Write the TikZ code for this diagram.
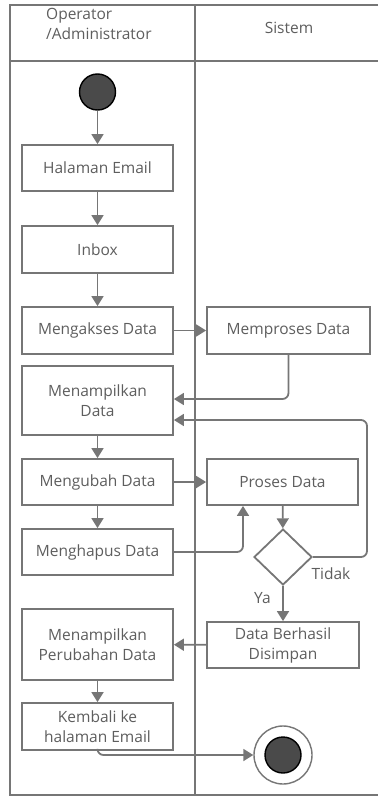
\documentclass[tikz,border=0pt]{standalone}
\usepackage{fontspec}
\setmainfont{Open Sans}
\usetikzlibrary{arrows.meta,shapes.geometric}
\definecolor{ln}{HTML}{767676}
\definecolor{tx}{HTML}{5E5E5E}
\definecolor{dot}{HTML}{4A4A4A}
\begin{document}
\begin{tikzpicture}[x=1pt,y=-1pt,
  font=\fontsize{15.5}{20}\selectfont,
  frame/.style={draw=ln, line width=2pt},
  box/.style={draw=ln, line width=1.8pt, text=tx, fill=white, minimum width=151pt, align=center, inner sep=2pt},
  lbl/.style={text=tx, inner sep=0pt},
  arr/.style={draw=ln, line width=1.8pt, -{Triangle[width=12pt,length=10pt]}, rounded corners=6pt},
  startdot/.style={circle, draw=black, line width=1.4pt, fill=dot, minimum size=36pt, inner sep=0pt},
  decide/.style={diamond, draw=ln, line width=1.8pt, fill=white, minimum width=58pt, minimum height=56pt, inner sep=0pt},
]
\useasboundingbox (0,0) rectangle (378,797);
% swimlane frame
\draw[frame] (378,5) -- (10,5) -- (10,795) -- (378,795);
\draw[frame] (10,61) -- (378,61);
\draw[frame] (195,5) -- (195,795);
\node[lbl, align=left, anchor=north west] (hdrA) at (46,8) {Operator\\/Administrator};
\node[lbl] (hdrB) at (289,28) {Sistem};

% left lane
\node[startdot] (start) at (97.5,92) {};
\node[box, minimum height=46pt] (halaman) at (97.5,168) {Halaman Email};
\node[box, minimum height=47pt] (inbox) at (97.5,249.5) {Inbox};
\node[box, minimum height=47pt] (akses) at (97.5,330.5) {Mengakses Data};
\node[box, minimum height=69pt] (tampil) at (97.5,400.5) {Menampilkan\\Data};
\node[box, minimum height=46pt] (ubah) at (97.5,482) {Mengubah Data};
\node[box, minimum height=46pt] (hapus) at (97.5,552) {Menghapus Data};
\node[box, minimum height=71pt] (perubahan) at (97.5,644.5) {Menampilkan\\Perubahan Data};
\node[box, minimum height=47pt] (kembali) at (97.5,726.5) {Kembali ke\\halaman Email};

% right lane
\node[box, minimum width=163pt, minimum height=47pt] (proses1) at (288.5,330.5) {Memproses Data};
\node[box, minimum height=46pt] (proses2) at (282.5,482) {Proses Data};
\node[decide] (cek) at (283,557) {};
\node[box, minimum width=152pt, minimum height=46pt] (simpan) at (283,645) {Data Berhasil\\Disimpan};
\node[circle, draw=ln, line width=1.4pt, fill=white, minimum size=58pt, inner sep=0pt] (final) at (283,755) {};
\node[circle, draw=black, line width=1.4pt, fill=dot, minimum size=36pt, inner sep=0pt] (finaldot) at (283,755) {};

\node[lbl] (tidak) at (331,574) {Tidak};
\node[lbl] (ya) at (262.5,598) {Ya};

% connectors
\draw[arr] (start) -- (halaman);
\draw[arr] (halaman) -- (inbox);
\draw[arr] (inbox) -- (akses);
\draw[arr] (akses) -- (proses1);
\draw[arr] (proses1.south) |- ([yshift=1.5pt]tampil.east);
\draw[arr] (tampil) -- (ubah);
\draw[arr] (ubah) -- (hapus);
\draw[arr] (ubah) -- (proses2);
\draw[arr] (hapus.east) -| ([xshift=-39.5pt]proses2.south);
\draw[arr] (proses2) -- (cek);
\coordinate (loopc) at (367,557);
\draw[arr] (cek.east) -- (loopc) |- ([yshift=-19.5pt]tampil.east);
\draw[arr] (cek) -- (simpan);
\draw[arr] (simpan) -- (perubahan);
\draw[arr] (perubahan) -- (kembali);
\draw[arr] (kembali.south) |- (final.west);
\end{tikzpicture}
\end{document}
